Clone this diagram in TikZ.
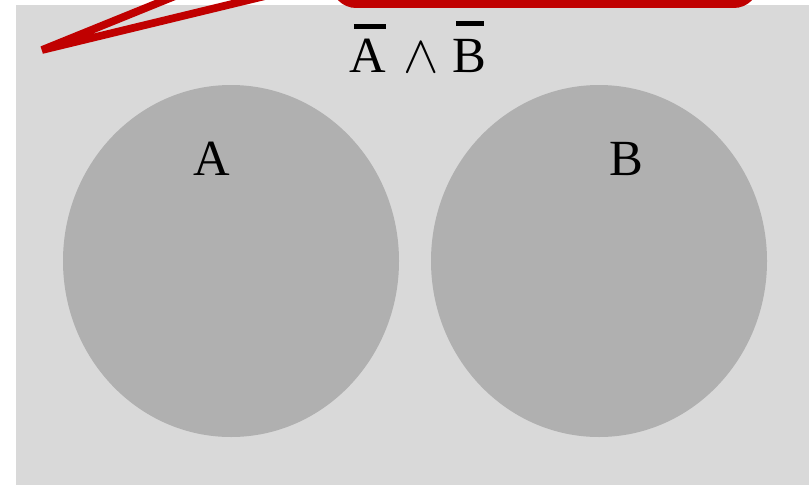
\documentclass[tikz,border=0pt]{standalone}
\usepackage{fontspec}
\setmainfont{Liberation Serif}
\newcommand\barA{\rlap{\hspace{3pt}\raisebox{33pt}{\rule{24pt}{3.4pt}}}A}
\newcommand\barB{\rlap{\hspace{3pt}\raisebox{35.5pt}{\rule{21pt}{3.4pt}}}B}
\begin{document}
\begin{tikzpicture}[x=0.75pt,y=-0.75pt,
  lbl/.style={font=\fontsize{38}{45}\selectfont, inner sep=0pt, anchor=base},
  setc/.style={fill=black!31, draw=none},
  callout/.style={draw={rgb,255:red,192;green,0;blue,0}, line width=5.8pt, line join=miter}]
\useasboundingbox (0,0) rectangle (809,485);
\fill[white] (0,0) rectangle (809,485);
\fill[black!15] (16,5) rectangle (809,485);
\path[setc] (231,261) ellipse [x radius=168, y radius=176];
\path[setc] (599,261) ellipse [x radius=168, y radius=176];
\node[lbl] (a) at (212,175) {A};
\node[lbl] (b) at (626,175) {B};
\node[lbl] (t) at (418,73) {\barA\hspace{13pt}\scalebox{1.6}{$\wedge$}\hspace{10pt}\barB};
\begin{scope}
\clip (0,0) rectangle (809,485);
\coordinate (tip) at (42,50);
\coordinate (p1) at (190,-10);
\coordinate (p2) at (290,-10);
\draw[callout] (p1) -- (tip) -- (p2);
\draw[callout, line width=6pt, rounded corners=16] (335,-40) -- (335,4) -- (755,4) -- (755,-40);
\end{scope}
\end{tikzpicture}
\end{document}
